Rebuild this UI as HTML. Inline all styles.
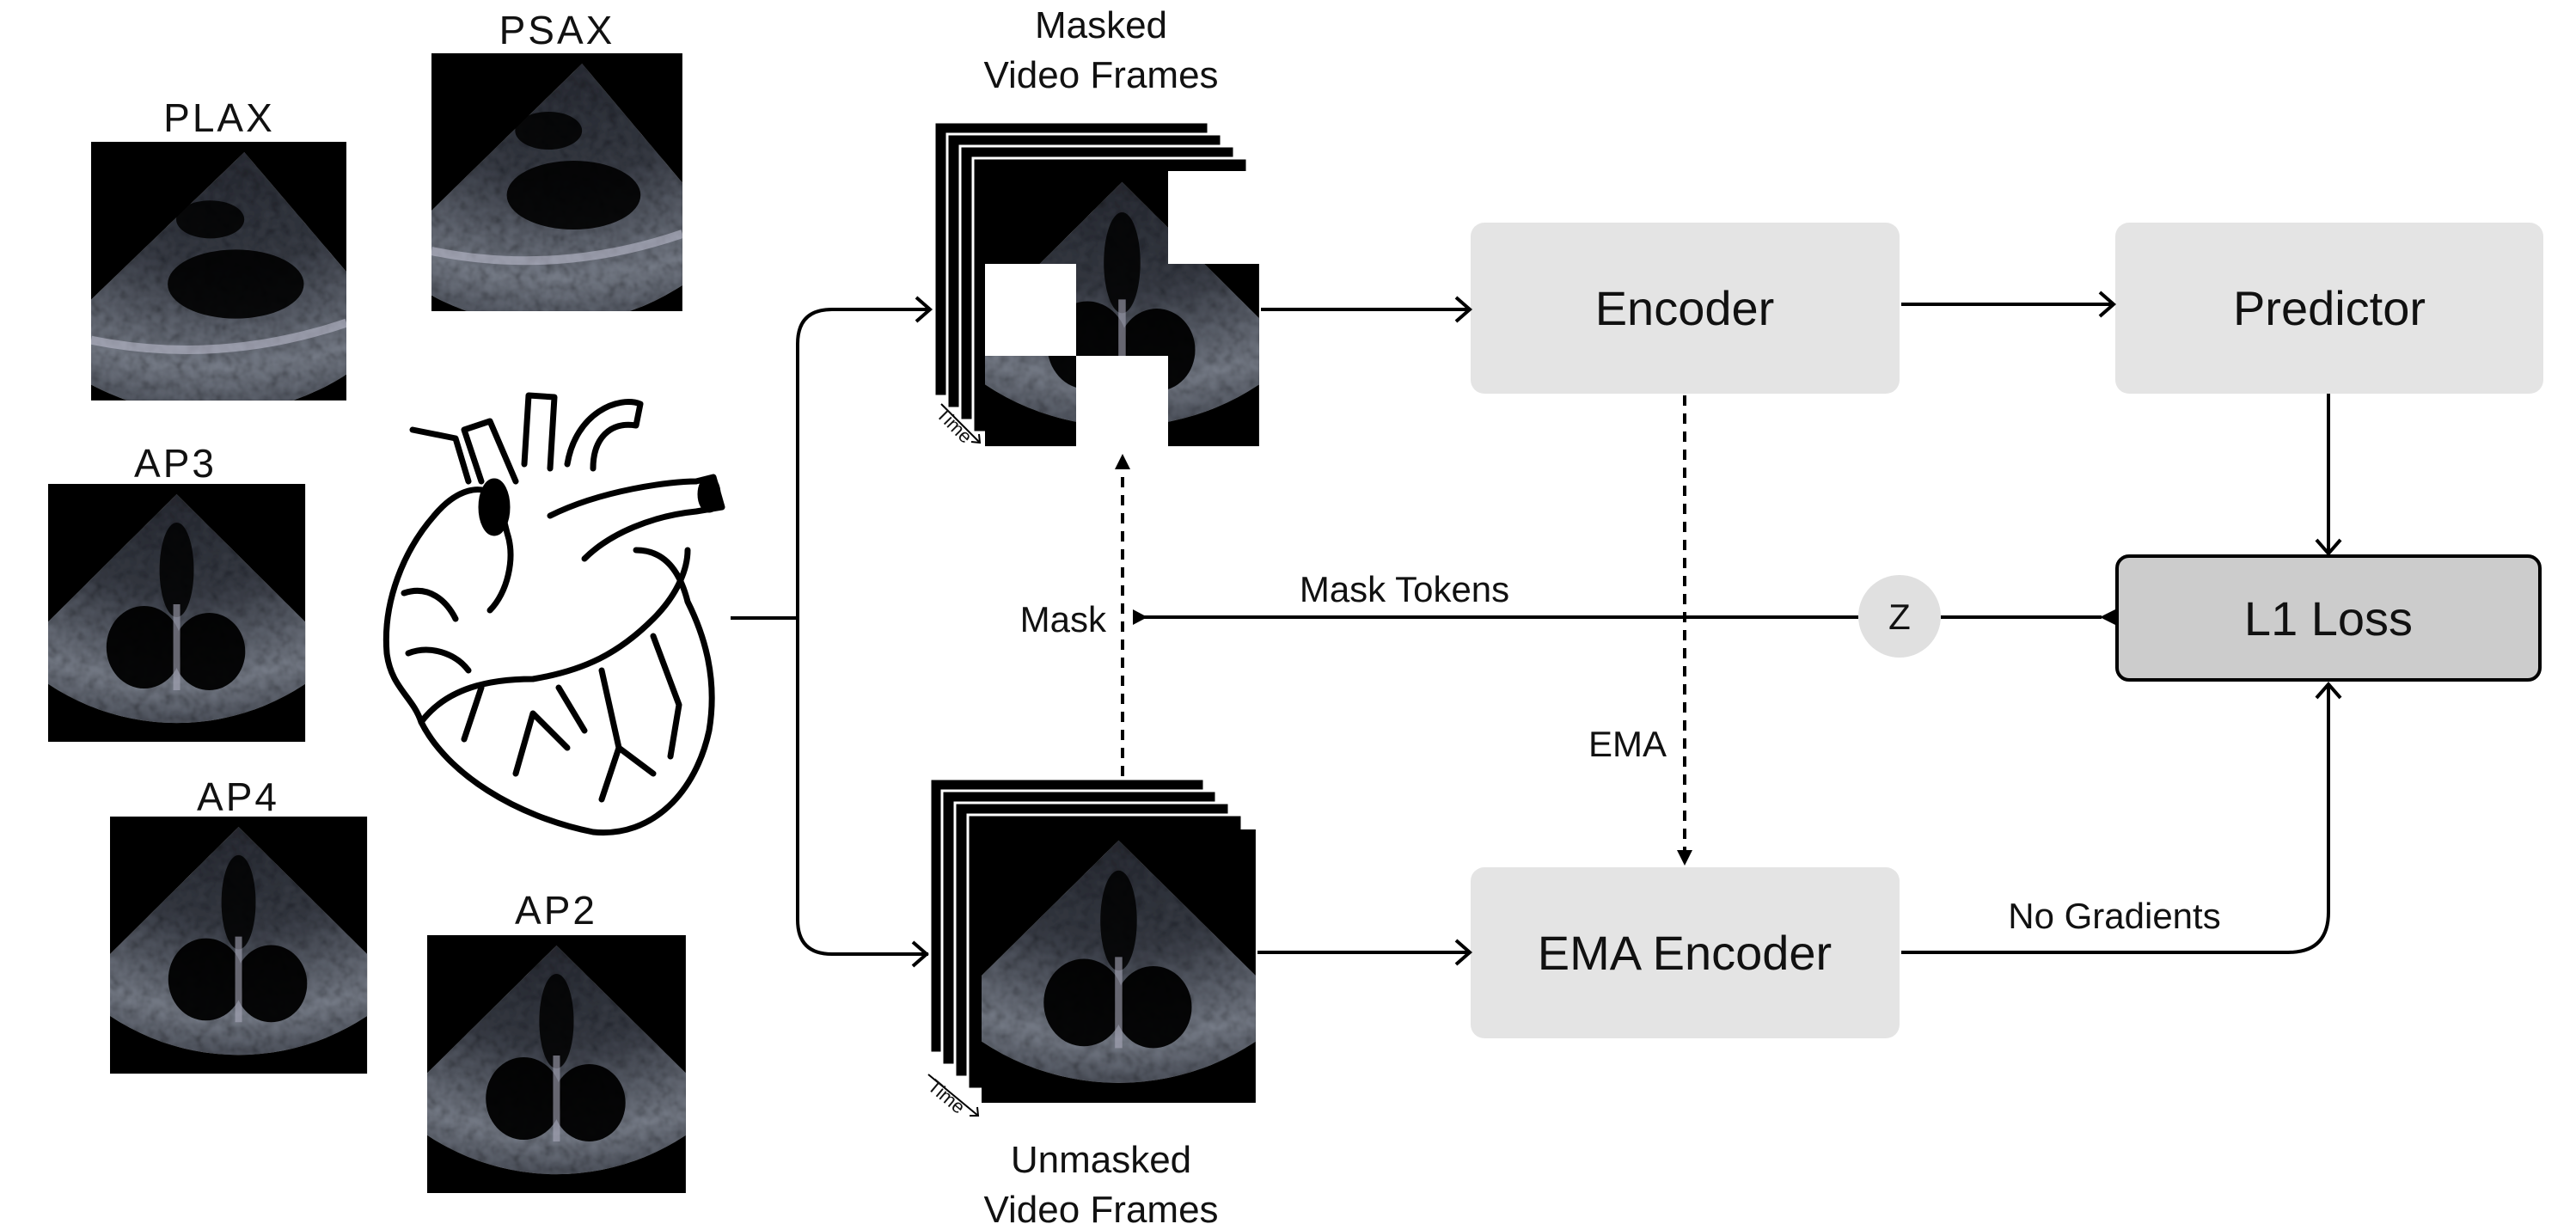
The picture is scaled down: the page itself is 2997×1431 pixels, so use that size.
<!DOCTYPE html>
<html><head><meta charset="utf-8"><style>
html,body{margin:0;padding:0;background:#fff;}
svg{display:block;}
text{font-family:"Liberation Sans",sans-serif;fill:#111;}
</style></head><body>
<svg width="2997" height="1431" viewBox="0 0 2997 1431" xmlns="http://www.w3.org/2000/svg">
<defs>
<radialGradient id="fan" cx="0.5" cy="0" r="1.1">
<stop offset="0" stop-color="#2a2d35"/>
<stop offset="0.4" stop-color="#3a3e48"/>
<stop offset="0.75" stop-color="#7a808c"/>
<stop offset="1" stop-color="#3a3e48"/>
</radialGradient>
<filter id="spk" x="0" y="0" width="1" height="1">
<feTurbulence type="fractalNoise" baseFrequency="0.09" numOctaves="2" seed="3" result="n"/>
<feColorMatrix in="n" type="saturate" values="0" result="g"/>
<feComposite in="g" in2="SourceGraphic" operator="in" result="m"/>
<feBlend in="SourceGraphic" in2="m" mode="multiply"/>
</filter>
<clipPath id="sq"><rect x="0" y="0" width="300" height="300"/></clipPath>
<g id="echo">
<rect x="0" y="0" width="300" height="300" fill="#000"/>
<g clip-path="url(#sq)">
<path d="M150,12 L-40,200 A270,270 0 0 0 340,200 Z" fill="url(#fan)" filter="url(#spk)"/>
<ellipse cx="112" cy="190" rx="44" ry="48" fill="#000" opacity="0.95"/>
<ellipse cx="188" cy="195" rx="42" ry="45" fill="#000" opacity="0.95"/>
<ellipse cx="150" cy="100" rx="20" ry="55" fill="#000" opacity="0.85"/>
<path d="M150,140 L150,240" stroke="#aab" stroke-width="8" opacity="0.6"/>
</g>
</g>
<g id="echo2">
<rect x="0" y="0" width="300" height="300" fill="#000"/>
<g clip-path="url(#sq)">
<path d="M180,12 L-60,240 A300,300 0 0 0 360,220 Z" fill="url(#fan)" filter="url(#spk)"/>
<ellipse cx="170" cy="165" rx="80" ry="40" fill="#000" opacity="0.9"/>
<ellipse cx="140" cy="90" rx="40" ry="22" fill="#000" opacity="0.85"/>
<path d="M0,230 Q150,260 300,210" stroke="#ccd" stroke-width="10" fill="none" opacity="0.5"/>
</g>
</g>
</defs>

<text x="255" y="153" font-size="46" text-anchor="middle" letter-spacing="3">PLAX</text>
<use href="#echo2" transform="translate(106,165) scale(0.99,1.003)"/>
<text x="648" y="51" font-size="46" text-anchor="middle" letter-spacing="3">PSAX</text>
<use href="#echo2" transform="translate(502,62) scale(0.973,1)"/>
<text x="204" y="555" font-size="46" text-anchor="middle" letter-spacing="3">AP3</text>
<use href="#echo" transform="translate(56,563) scale(0.997,1)"/>
<text x="277" y="943" font-size="46" text-anchor="middle" letter-spacing="3">AP4</text>
<use href="#echo" transform="translate(128,950) scale(0.997,0.997)"/>
<text x="647" y="1075" font-size="46" text-anchor="middle" letter-spacing="3">AP2</text>
<use href="#echo" transform="translate(497,1088) scale(1.003,1)"/>

<!-- Heart -->
<g fill="none" stroke="#000" stroke-width="7" stroke-linejoin="round" stroke-linecap="round">
<path d="M505,600 C470,640 445,700 450,760 C455,800 480,810 490,840 C520,900 600,950 690,968 C760,975 810,920 825,850 C835,790 820,740 800,700 C790,660 770,640 740,640"/>
<path d="M490,840 C520,800 570,790 620,790 C680,780 720,760 760,720 C790,690 800,660 800,640"/>
<path d="M505,600 C530,570 560,560 580,580 L590,620 C600,650 590,690 570,710"/>
<path d="M560,560 L540,500 L570,490 L600,560"/>
<path d="M610,540 L615,460 L645,462 L640,545"/>
<path d="M660,540 C670,480 720,460 745,470 L740,495 C710,490 690,510 690,545"/>
<path d="M640,600 C700,570 780,560 810,560 L830,555 L840,590 L810,595 C760,600 710,620 680,650"/>
<path d="M480,500 L530,510 L545,560"/>
<path d="M470,690 C500,680 520,700 530,720 M475,760 C500,750 530,760 545,780"/>
<path d="M620,830 L600,900 M620,830 L660,870 M700,780 L720,870 L700,930 M720,870 L760,900 M760,740 L790,820 L780,880 M560,800 L540,860 M650,800 L680,850"/>
<ellipse cx="575" cy="590" rx="15" ry="30" fill="#000"/>
<ellipse cx="825" cy="575" rx="10" ry="18" fill="#000"/>
</g>

<g fill="none" stroke="#000" stroke-width="4">
<line x1="850" y1="719" x2="928" y2="719"/>
<path d="M1080,360 L968,360 Q928,360 928,400 L928,1070 Q928,1110 968,1110 L1080,1110"/>
<path d="M1066,346 L1082,360 L1066,374"/>
<path d="M1062,1096 L1078,1110 L1062,1124"/>
</g>

<text x="1281" y="44" font-size="44" text-anchor="middle">Masked</text>
<text x="1281" y="102" font-size="44" text-anchor="middle">Video Frames</text>
<g stroke="#fff" stroke-width="3" fill="#000">
<rect x="1087" y="142" width="319" height="319"/>
<rect x="1102" y="156" width="319" height="319"/>
<rect x="1117" y="170" width="319" height="319"/>
<rect x="1132" y="184" width="319" height="319"/>
</g>
<use href="#echo" transform="translate(1146,199) scale(1.063,1.067)"/>
<rect x="1359" y="199" width="108" height="108" fill="#fff"/>
<rect x="1146" y="307" width="106" height="107" fill="#fff"/>
<rect x="1252" y="414" width="107" height="107" fill="#fff"/>
<path d="M1095,470 L1140,515" stroke="#000" stroke-width="2"/>
<path d="M1130,514 L1140,515 L1139,505" stroke="#000" stroke-width="2" fill="none"/>
<text x="0" y="0" font-size="22" transform="translate(1088,483) rotate(45)">Time</text>

<g stroke="#fff" stroke-width="3" fill="#000">
<rect x="1082" y="906" width="319" height="319"/>
<rect x="1096" y="920" width="319" height="319"/>
<rect x="1111" y="934" width="319" height="319"/>
<rect x="1126" y="948" width="319" height="319"/>
</g>
<use href="#echo" transform="translate(1142,965) scale(1.063,1.06)"/>
<path d="M1080,1250 L1138,1298" stroke="#000" stroke-width="2"/>
<path d="M1128,1298 L1138,1298 L1137,1288" stroke="#000" stroke-width="2" fill="none"/>
<text x="0" y="0" font-size="22" transform="translate(1078,1266) rotate(40)">Time</text>
<text x="1281" y="1364" font-size="44" text-anchor="middle">Unmasked</text>
<text x="1281" y="1422" font-size="44" text-anchor="middle">Video Frames</text>

<rect x="1711" y="259" width="499" height="199" rx="16" fill="#e4e4e4"/>
<text x="1960" y="378" font-size="56" text-anchor="middle">Encoder</text>
<rect x="2461" y="259" width="498" height="199" rx="16" fill="#e4e4e4"/>
<text x="2710" y="378" font-size="56" text-anchor="middle">Predictor</text>
<rect x="2463" y="647" width="492" height="144" rx="14" fill="#cccccc" stroke="#000" stroke-width="4"/>
<text x="2709" y="739" font-size="56" text-anchor="middle">L1 Loss</text>
<rect x="1711" y="1009" width="499" height="199" rx="16" fill="#e4e4e4"/>
<text x="1960" y="1128" font-size="56" text-anchor="middle">EMA Encoder</text>
<circle cx="2210" cy="717" r="48" fill="#e0e0e0"/>
<text x="2210" y="732" font-size="42" text-anchor="middle">Z</text>

<g fill="none" stroke="#000" stroke-width="4">
<line x1="1467" y1="360" x2="1710" y2="360"/>
<path d="M1694,346 L1710,360 L1694,374"/>
<line x1="2212" y1="354" x2="2459" y2="354"/>
<path d="M2443,340 L2459,354 L2443,368"/>
<line x1="2709" y1="458" x2="2709" y2="644"/>
<path d="M2695,628 L2709,644 L2723,628"/>
<line x1="1463" y1="1108" x2="1710" y2="1108"/>
<path d="M1694,1094 L1710,1108 L1694,1122"/>
<path d="M2212,1108 L2662,1108 Q2709,1108 2709,1061 L2709,796"/>
<path d="M2695,812 L2709,796 L2723,812"/>
<line x1="1320" y1="718" x2="2162" y2="718"/>
<line x1="2258" y1="718" x2="2445" y2="718"/>
<line x1="1306" y1="903" x2="1306" y2="545" stroke-dasharray="12,9"/>
<line x1="1960" y1="460" x2="1960" y2="990" stroke-dasharray="12,9"/>
</g>
<path d="M1306,528 L1297,546 L1315,546 Z" fill="#000"/>
<path d="M1960,1007 L1951,989 L1969,989 Z" fill="#000"/>
<path d="M1335,718 L1318,709 L1318,727 Z" fill="#000"/>
<path d="M2443,718 L2461,709 L2461,727 Z" fill="#000"/>

<text x="1287" y="735" font-size="42" text-anchor="end">Mask</text>
<text x="1634" y="700" font-size="42" text-anchor="middle">Mask Tokens</text>
<text x="1939" y="880" font-size="42" text-anchor="end">EMA</text>
<text x="2460" y="1080" font-size="42" text-anchor="middle">No Gradients</text>
</svg>
</body></html>
